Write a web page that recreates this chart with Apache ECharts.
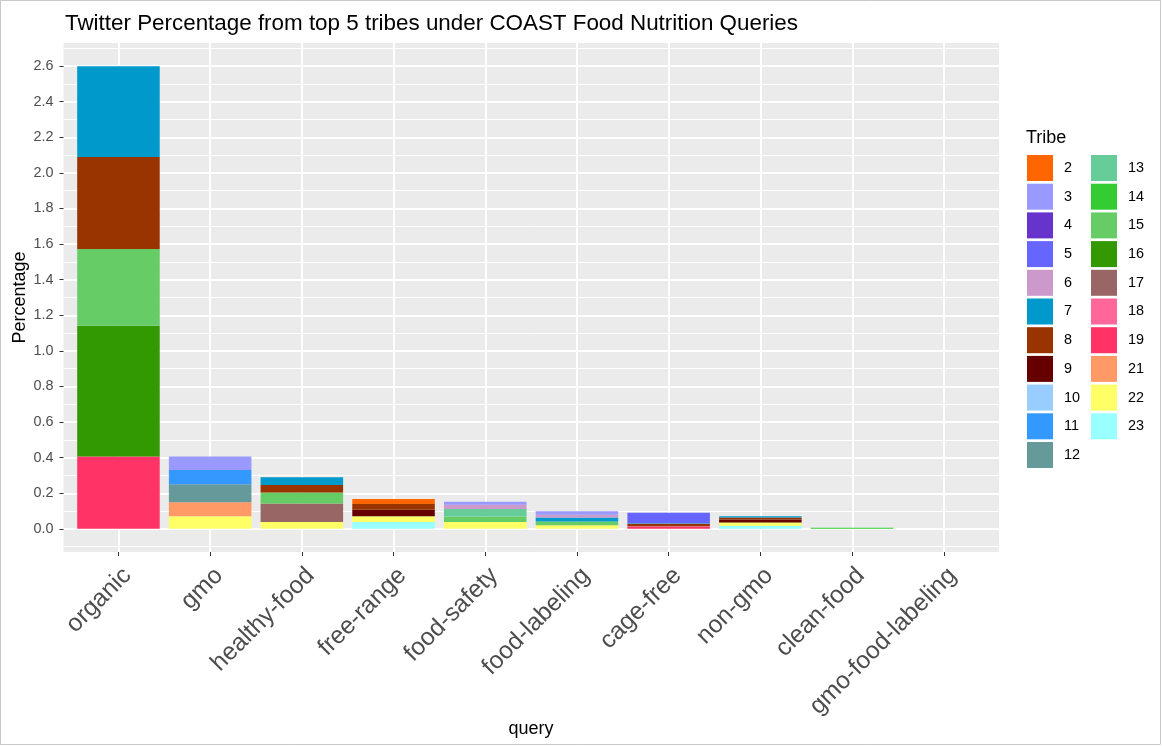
<!DOCTYPE html>
<html><head><meta charset="utf-8">
<script src="https://cdn.jsdelivr.net/npm/echarts@6/dist/echarts.min.js"></script>
<style>html,body{margin:0;padding:0;background:#fff}#c{width:1162px;height:746px}</style>
</head><body><div id="c"></div>
<script>
const categories = ['organic','gmo','healthy-food','free-range','food-safety','food-labeling','cage-free','non-gmo','clean-food','gmo-food-labeling'];
const tribeNames = ['2','3','4','5','6','7','8','9','10','11','12','13','14','15','16','17','18','19','21','22','23'];
const tribeColors = ['#FF6600','#9999FF','#6633CC','#6666FF','#CC99CC','#0099CC','#993300','#660000','#99CCFF','#3399FF','#669999','#66CC99','#33CC33','#66CC66','#339900','#996666','#FF6699','#FF3366','#FF9966','#FFFF66','#99FFFF'];
// percentage per tribe, in category order
const tribe2  = [0,     0,     0,     0.028, 0,     0,     0,     0,     0,     0];
const tribe3  = [0,     0.075, 0,     0,     0.018, 0.019, 0,     0,     0,     0];
const tribe4  = [0,     0,     0,     0,     0,     0,     0,     0,     0,     0];
const tribe5  = [0,     0,     0,     0,     0,     0,     0.058, 0,     0,     0];
const tribe6  = [0,     0,     0,     0,     0.023, 0.016, 0,     0,     0,     0];
const tribe7  = [0.510, 0,     0.043, 0,     0,     0.023, 0.003, 0.007, 0,     0];
const tribe8  = [0.518, 0,     0.043, 0.033, 0,     0,     0.014, 0.011, 0,     0];
const tribe9  = [0,     0,     0,     0.036, 0,     0,     0,     0.017, 0,     0];
const tribe10 = [0,     0,     0,     0,     0,     0,     0,     0,     0,     0];
const tribe11 = [0,     0.080, 0,     0,     0,     0,     0,     0,     0,     0];
const tribe12 = [0,     0.101, 0,     0,     0,     0,     0,     0,     0,     0];
const tribe13 = [0,     0,     0,     0,     0.043, 0,     0,     0,     0,     0];
const tribe14 = [0,     0,     0,     0,     0,     0,     0,     0,     0.006, 0];
const tribe15 = [0.431, 0,     0.062, 0,     0.031, 0.020, 0,     0,     0,     0];
const tribe16 = [0.735, 0,     0,     0,     0,     0,     0,     0,     0,     0];
const tribe17 = [0,     0,     0.104, 0,     0,     0,     0,     0,     0,     0];
const tribe18 = [0,     0,     0,     0,     0,     0,     0.005, 0,     0,     0];
const tribe19 = [0.406, 0,     0,     0,     0,     0,     0.010, 0,     0,     0];
const tribe21 = [0,     0.079, 0,     0,     0,     0,     0,     0,     0,     0];
const tribe22 = [0,     0.071, 0.038, 0.033, 0.038, 0.021, 0,     0.019, 0,     0];
const tribe23 = [0,     0,     0,     0.038, 0,     0,     0,     0.017, 0,     0];
const tribeValues = [tribe2,tribe3,tribe4,tribe5,tribe6,tribe7,tribe8,tribe9,tribe10,tribe11,tribe12,tribe13,tribe14,tribe15,tribe16,tribe17,tribe18,tribe19,tribe21,tribe22,tribe23];
const yMajorTicks = [0.0,0.2,0.4,0.6,0.8,1.0,1.2,1.4,1.6,1.8,2.0,2.2,2.4,2.6];
const yMinorTicks = [-0.1,0.1,0.3,0.5,0.7,0.9,1.1,1.3,1.5,1.7,1.9,2.1,2.3,2.5,2.7];
const xCenterTicks = [0,1,2,3,4,5,6,7,8,9];

const FONT = 'Liberation Sans, Arial, sans-serif';
const Y_MIN = -0.13, Y_MAX = 2.73;

// ggplot stacks the first level on top -> add series in reverse order
const series = [];
for (let i = tribeNames.length - 1; i >= 0; i--) {
  series.push({
    name: tribeNames[i], type: 'bar', stack: 'total',
    xAxisIndex: 1, yAxisIndex: 2, barWidth: '90%',
    itemStyle: { color: tribeColors[i] },
    emphasis: { disabled: true },
    data: tribeValues[i]
  });
}

const legendBase = {
  orient: 'vertical', icon: 'rect', itemWidth: 26, itemHeight: 26, itemGap: 2.7,
  selectedMode: false, top: 150, padding: 5,
  textStyle: { fontFamily: FONT, fontSize: 14.4, color: '#000', padding: [0,0,0,6] }
};

const chart = echarts.init(document.getElementById('c'), null, { renderer: 'canvas' });
chart.setOption({
  animation: false,
  backgroundColor: '#fff',
  textStyle: { fontFamily: FONT },
  title: [
    { text: 'Twitter Percentage from top 5 tribes under COAST Food Nutrition Queries', left: 60, top: 8,
      textStyle: { fontFamily: FONT, fontSize: 22.4, fontWeight: 'normal', color: '#000' } },
    { text: 'Tribe', left: 1021, top: 124,
      textStyle: { fontFamily: FONT, fontSize: 18, fontWeight: 'normal', color: '#000' } }
  ],
  legend: [
    Object.assign({}, legendBase, { left: 1022, data: tribeNames.slice(0, 11) }),
    Object.assign({}, legendBase, { left: 1086, data: tribeNames.slice(11) })
  ],
  graphic: [{ type: 'rect', shape: { x: 0.5, y: 0.5, width: 1160, height: 744 }, style: { fill: 'none', stroke: '#c8c8c8', lineWidth: 1 }, silent: true }],
  grid: [
    { left: 63.5, right: 163, top: 43, bottom: 194, show: true, backgroundColor: '#EBEBEB', borderWidth: 0, outerBoundsMode: 'none', containLabel: false },
    { left: 72.6, right: 172.4, top: 43, bottom: 194, outerBoundsMode: 'none', containLabel: false }
  ],
  xAxis: [
    { type: 'value', gridIndex: 0, min: -0.6, max: 9.6,
      axisLine: { show: false, onZero: false }, axisLabel: { show: false },
      axisTick: { show: false, customValues: xCenterTicks },
      splitLine: { show: true, lineStyle: { color: '#fff', width: 2 } } },
    { type: 'category', gridIndex: 1, data: categories,
      axisLine: { show: false, onZero: false },
      axisTick: { show: true, alignWithLabel: true, length: 4, lineStyle: { color: '#333', width: 1 } },
      axisLabel: { rotate: 45, interval: 0, margin: 11, fontSize: 24.5, color: '#4D4D4D', fontFamily: FONT,
        align: 'right', verticalAlign: 'top' },
      splitLine: { show: false },
      name: 'query', nameLocation: 'middle', nameGap: 168, nameMoveOverlap: false,
      nameTextStyle: { fontSize: 18, color: '#000', fontFamily: FONT } }
  ],
  yAxis: [
    { type: 'value', gridIndex: 0, min: Y_MIN, max: Y_MAX,
      axisLine: { show: false, onZero: false },
      axisTick: { show: true, length: 4, customValues: yMajorTicks, lineStyle: { color: '#333', width: 1 } },
      axisLabel: { customValues: yMajorTicks, margin: 10, fontSize: 14.4, color: '#4D4D4D', fontFamily: FONT,
        formatter: v => v.toFixed(1) },
      splitLine: { show: true, lineStyle: { color: '#fff', width: 2 } },
      name: 'Percentage', nameLocation: 'middle', nameGap: 34, nameRotate: 90, nameMoveOverlap: false,
      nameTextStyle: { fontSize: 18, color: '#000', fontFamily: FONT } },
    { type: 'value', gridIndex: 0, min: Y_MIN, max: Y_MAX,
      axisLine: { show: false, onZero: false }, axisLabel: { show: false },
      axisTick: { show: false, customValues: yMinorTicks },
      splitLine: { show: true, lineStyle: { color: '#fff', width: 1 } } },
    { type: 'value', gridIndex: 1, min: Y_MIN, max: Y_MAX, show: false, splitLine: { show: false } }
  ],
  series: series
});
</script></body></html>
